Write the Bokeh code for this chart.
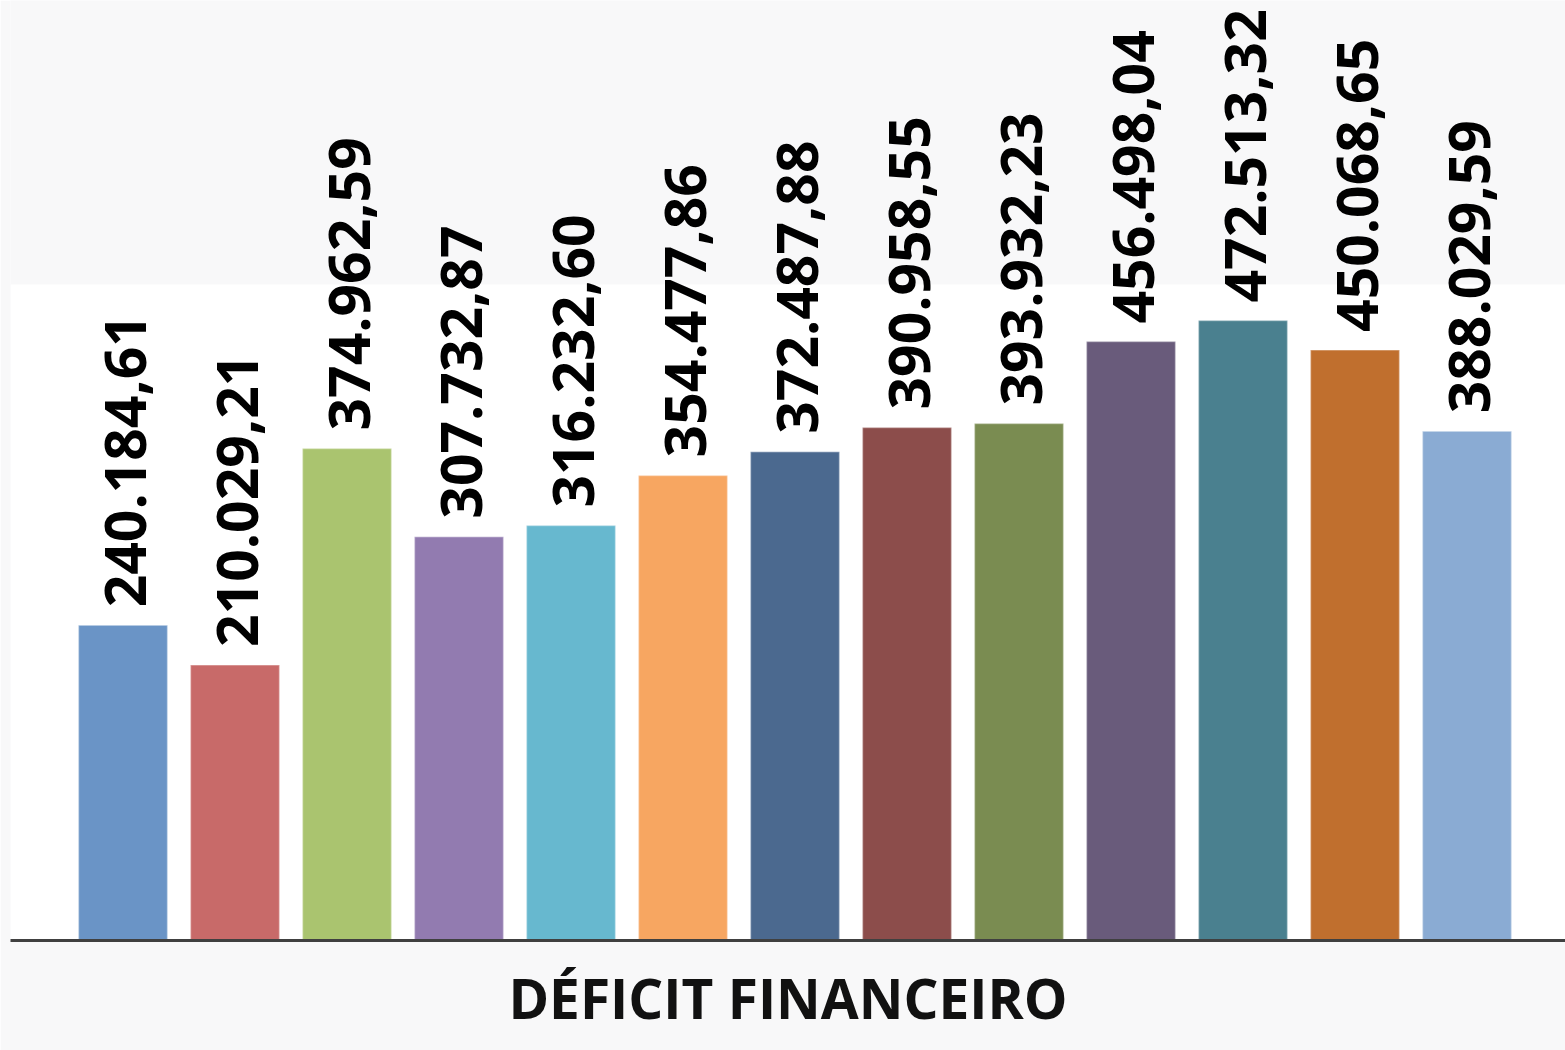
import math
from bokeh.plotting import figure
from bokeh.models import Range1d, BoxAnnotation, ColumnDataSource, Title, FixedTicker
from bokeh.core.properties import value
from bokeh.embed import file_html
from bokeh.resources import INLINE

# ---- data ----
positions = list(range(1, 14))
values = [240184.61, 210029.21, 374962.59, 307732.87, 316232.60, 354477.86,
          372487.88, 390958.55, 393932.23, 456498.04, 472513.32, 450068.65,
          388029.59]
colors = ["#6a94c6", "#c86a69", "#aac46f", "#927bb0", "#67b8cf", "#f7a661",
          "#4b698f", "#8c4d4b", "#7a8c51", "#695b7b", "#4a808f", "#c06f2e",
          "#8aabd3"]
title_text = "DÉFICIT FINANCEIRO"
axis_max = 500000


def br(v):
    s = f"{v:,.2f}"
    return s.replace(",", "X").replace(".", ",").replace("X", ".")


labels = [br(v) for v in values]

src = ColumnDataSource(dict(x=positions, top=values, color=colors, label=labels))

PX_PER_CAT = 112
FRAME_W = 1555
FRAME_H = 940
px_per_unit = 620 / 472513.32
x0 = -0.5 / PX_PER_CAT

p = figure(
    frame_width=FRAME_W, frame_height=FRAME_H,
    x_range=Range1d(x0, x0 + FRAME_W / PX_PER_CAT),
    y_range=Range1d(0, FRAME_H / px_per_unit),
    output_backend="svg", toolbar_location=None,
    min_border_left=10, min_border_right=0, min_border_top=0, min_border_bottom=0,
)
p.background_fill_color = "#f8f8f9"
p.border_fill_color = "#f8f8f9"
p.outline_line_color = None
p.grid.visible = False
p.yaxis.visible = False

# white plot area
p.add_layout(BoxAnnotation(bottom=0, top=axis_max, fill_color="white", fill_alpha=1.0,
                           line_color=None, level="underlay"))

p.vbar(x="x", top="top", width=89 / PX_PER_CAT, bottom=0, source=src,
       fill_color="color", line_color="white", line_alpha=0.35, line_width=1.5)

p.text(x="x", y="top", text="label", source=src, angle=math.pi / 2,
       text_align="left", text_baseline="middle", y_offset=-18, x_offset=2,
       text_font=value("Open Sans"), text_font_style="bold",
       text_font_size="57px", text_color="black")

ax = p.xaxis[0]
ax.ticker = FixedTicker(ticks=[])
ax.axis_line_color = "#404040"
ax.axis_line_width = 3
ax.major_tick_line_color = None
ax.minor_tick_line_color = None

p.add_layout(Title(text=title_text, align="center", text_font="Open Sans",
                   text_font_size="55px", text_font_style="bold", offset=8,
                   text_color="#111111", standoff=34), "below")

open("out.html", "w").write(file_html(p, INLINE))
